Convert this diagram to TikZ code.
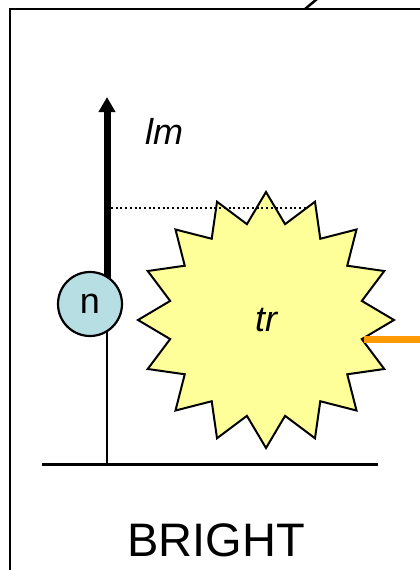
\documentclass[tikz,border=0pt]{standalone}
\usepackage{fontspec}
\setmainfont{Liberation Sans}
\usetikzlibrary{arrows.meta, shapes.geometric}
\definecolor{nucleusblue}{RGB}{183,222,226}
\definecolor{flashyellow}{RGB}{255,255,153}
\definecolor{beamorange}{RGB}{255,153,0}

\begin{document}
\begin{tikzpicture}[x=1pt, y=-1pt,
  every node/.style={font=\fontsize{36}{40}\selectfont},
  frame/.style={line width=2.5pt},
  floor/.style={line width=3pt},
  pole/.style={line width=2pt},
  lmarrow/.style={line width=7pt, -{Triangle[length=15pt, width=16pt]}},
  nucleus/.style={circle, draw, line width=2.2pt, fill=nucleusblue,
                  minimum size=64pt, inner sep=0pt},
  flash/.style={star, star points=16, star point ratio=1.31, draw,
                line width=2pt, fill=flashyellow, minimum size=256pt,
                inner sep=0pt, font=\fontsize{36}{40}\selectfont\itshape},
  level/.style={line width=1.5pt, dash pattern=on 2pt off 2.7pt},
  beam/.style={line width=7pt, draw=beamorange}
]
\useasboundingbox (0,0) rectangle (420,570);
% frame of the panel
\draw[frame] (425,9) -- (10,9) -- (10,575);
\draw[frame] (305,9) -- (317,-1);
% ground and pole
\coordinate (gl) at (42,464);
\coordinate (gr) at (378,464);
\coordinate (pole) at (107,303);
\coordinate (tip) at (107,97);
\coordinate (rim) at (421,0);
\draw[floor] (gl) -- (gr);
\draw[pole] (pole) -- (pole |- gl);
\draw[lmarrow] (pole) -- (tip);
\node[nucleus] (n) at (90,304) {n};
\node[flash] (tr) at (266,320) {tr};
\draw[level] (111,208) coordinate (lvl) -- (307,208) coordinate (lvr);
\draw[beam] (tr.-11.25) -- (tr.-11.25 -| rim);
\node[font=\fontsize{36}{40}\selectfont\itshape] (lm) at (164,131) {lm};
\node[font=\fontsize{47}{52}\selectfont] (bright) at (216,540) {BRIGHT};
\end{tikzpicture}
\end{document}
